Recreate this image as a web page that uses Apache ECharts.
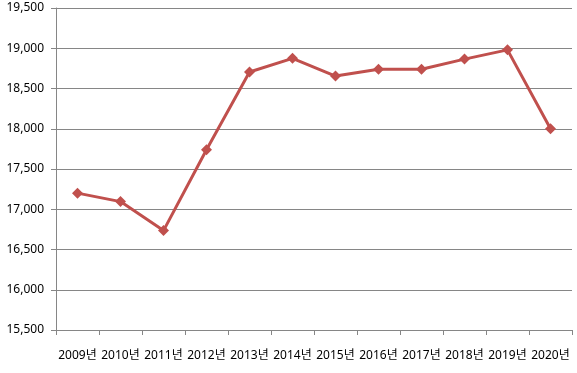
<!DOCTYPE html>
<html><head><meta charset="utf-8">
<script src="https://cdn.jsdelivr.net/npm/echarts@6/dist/echarts.min.js"></script>
<style>html,body{margin:0;padding:0;background:#fff}#c{width:577px;height:373px}</style>
</head><body><div id="c"></div>
<script>
const categories = ['2009년','2010년','2011년','2012년','2013년','2014년','2015년','2016년','2017년','2018년','2019년','2020년'];
const values = [17200, 17095, 16735, 17740, 18705, 18875, 18655, 18740, 18740, 18865, 18980, 18000];
const yMin = 15500, yMax = 19500, yStep = 500;

const chart = echarts.init(document.getElementById('c'));
const font = '"Noto Sans", "Noto Sans CJK KR", sans-serif';
chart.setOption({
  animation: false,
  grid: {left: 56, right: 5, top: 8, bottom: 43, containLabel: false},
  xAxis: {
    type: 'category', data: categories, boundaryGap: true,
    axisLine: {lineStyle: {color: '#868686', width: 1}},
    axisTick: {show: true, interval: 0, length: 5, lineStyle: {color: '#868686'}},
    axisLabel: {interval: 0, color: '#000', fontSize: 12, fontFamily: font, margin: 20}
  },
  yAxis: {
    type: 'value', min: yMin, max: yMax, interval: yStep,
    axisLine: {show: true, lineStyle: {color: '#868686', width: 1}},
    axisTick: {show: true, length: 5, lineStyle: {color: '#868686'}},
    splitLine: {lineStyle: {color: '#868686', width: 1}},
    axisLabel: {color: '#000', fontSize: 12, fontFamily: font, margin: 12,
      formatter: v => v.toLocaleString('en-US')}
  },
  series: [{
    type: 'line', data: values,
    symbol: 'diamond', symbolSize: 11,
    lineStyle: {color: '#C0504D', width: 3},
    itemStyle: {color: '#C0504D'}
  }]
});
</script></body></html>
